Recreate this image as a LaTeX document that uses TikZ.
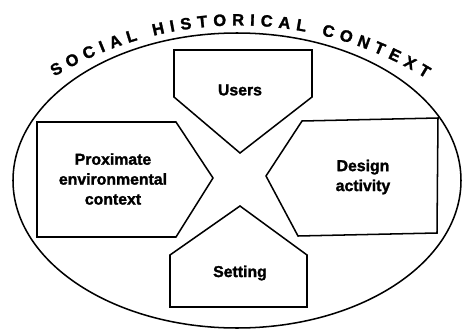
\documentclass[tikz,border=0pt]{standalone}
\usepackage{fontspec}
\setmainfont{Liberation Sans}[BoldFeatures={FakeBold=1.6}]
\usetikzlibrary{decorations.text}

\begin{document}
\begin{tikzpicture}[x=0.03cm,y=-0.03cm,
  part/.style={draw=black,line width=1.3pt,line join=miter},
  label/.style={font=\bfseries\fontsize{13.5}{17}\selectfont,align=center}]
\useasboundingbox (0,0) rectangle (462,331);
\draw[line width=1.3pt] (237,180.5) ellipse [x radius=224, y radius=147.5];

\draw[part] (174,50) -- (312,50) -- (312,97) -- (240,153) -- (174,97) -- cycle;
\draw[part] (37,122) -- (176,122) -- (213,178) -- (176,237) -- (37,237) -- cycle;
\draw[part] (302,121) -- (438,118) -- (437,233) -- (298,236) -- (266,176) -- cycle;
\draw[part] (240,206) -- (307,255) -- (307,307) -- (170,307) -- (170,255) -- cycle;

\node[label] (users) at (240,90) {Users};
\node[label] (proximate) at (113,179) {Proximate\\environmental\\context};
\node[label] (design) at (363,177) {Design\\activity};
\node[label] (setting) at (240,273) {Setting};

\path[decorate,decoration={text along path,text align={fit to path},
  text={|\bfseries\fontsize{14}{16}\selectfont|SOCIAL HISTORICAL CONTEXT}}]
  (54.4,76.6) arc[start angle=-121, end angle=-58.5, radius=358];
\end{tikzpicture}
\end{document}
